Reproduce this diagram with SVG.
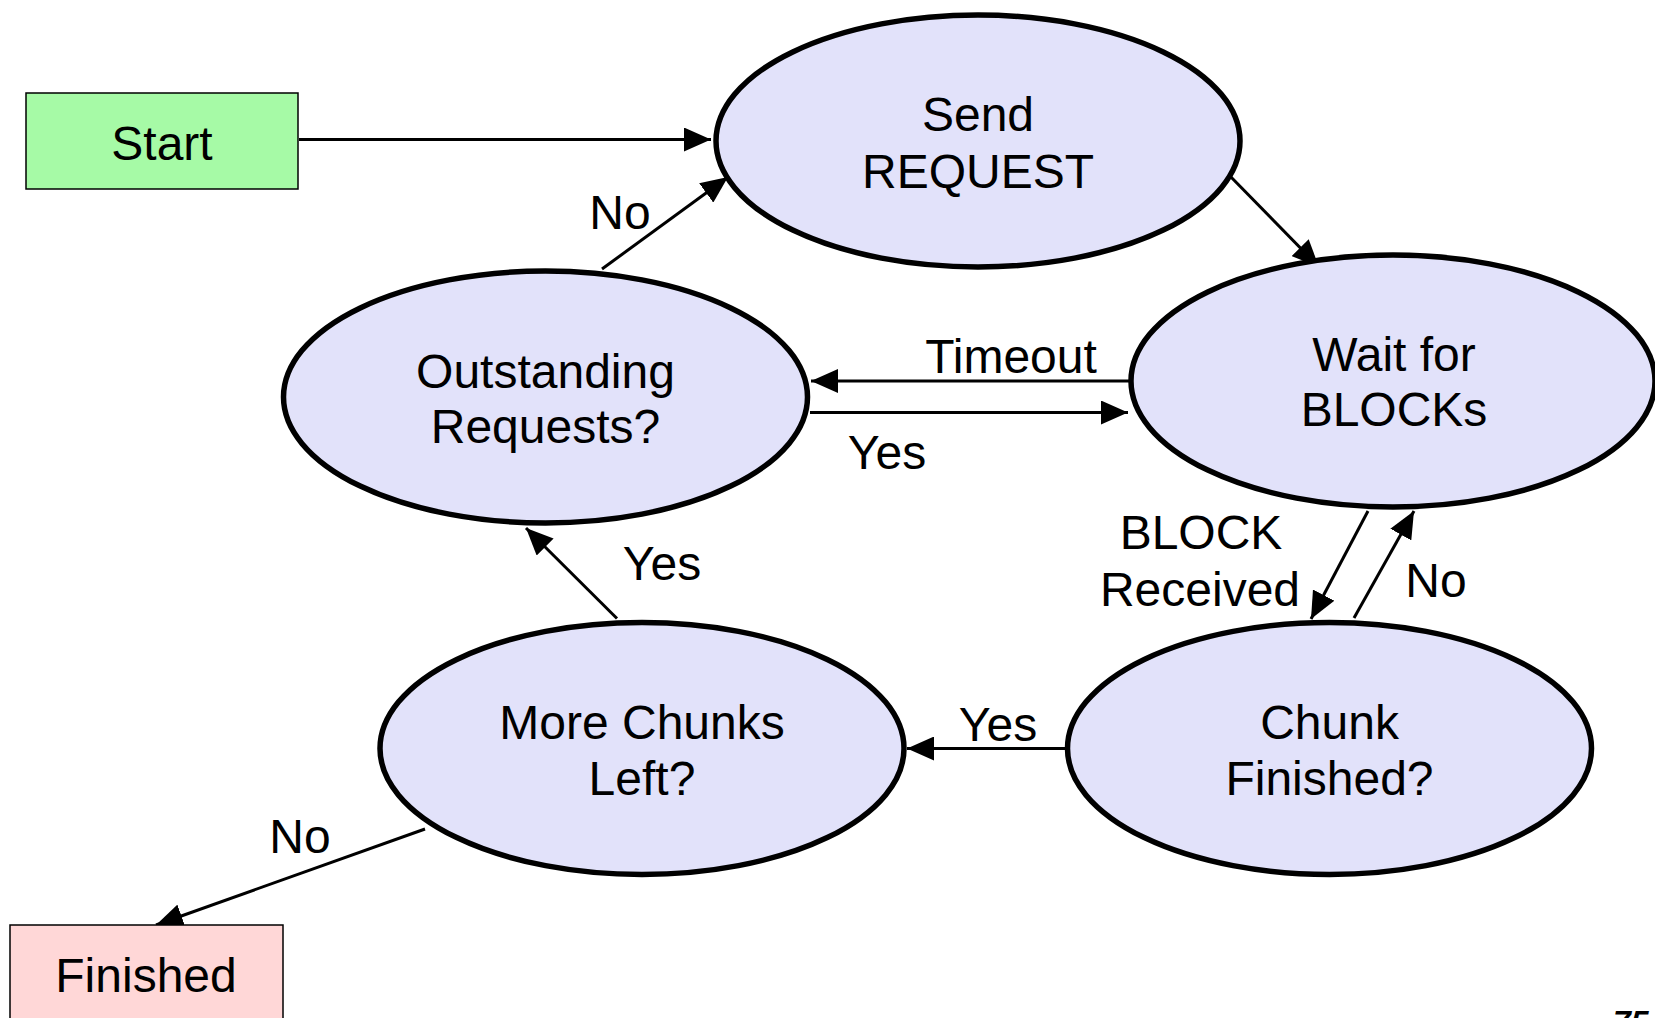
<svg xmlns="http://www.w3.org/2000/svg" width="1655" height="1018" viewBox="0 0 1655 1018">
<style>
.st{fill:#E2E2FA;stroke:#000;stroke-width:5.5}
.t{font-family:"Liberation Sans",Arial,sans-serif;font-size:48px;fill:#000;text-anchor:middle}
.c{stroke:#000;stroke-width:3;fill:none;marker-end:url(#ah)}
</style>
<defs>
<marker id="ah" markerUnits="userSpaceOnUse" markerWidth="28" markerHeight="24" refX="27" refY="12" orient="auto">
<path d="M0,0 L27,12 L0,24 z" fill="#000"/>
</marker>
</defs>
<rect width="1655" height="1018" fill="#fff"/>
<g id="connectors">
<line class="c" x1="299" y1="139.5" x2="711" y2="139.5"/>
<line class="c" x1="602" y1="269" x2="728" y2="177"/>
<line class="c" x1="1228" y1="174" x2="1319" y2="267"/>
<line class="c" x1="1129" y1="381" x2="811" y2="381"/>
<line class="c" x1="810" y1="412.5" x2="1128" y2="412.5"/>
<line class="c" x1="1368" y1="511" x2="1311" y2="619"/>
<line class="c" x1="1354" y1="618" x2="1414" y2="511"/>
<line class="c" x1="1065" y1="748.5" x2="907" y2="748.5"/>
<line class="c" x1="617" y1="618.5" x2="526" y2="528"/>
<line class="c" x1="425" y1="829" x2="156" y2="925"/>
<text class="t" x="620" y="229">No</text>
<text class="t" x="1011" y="373">Timeout</text>
<text class="t" x="887" y="469">Yes</text>
<text class="t" x="1201" y="549">BLOCK</text>
<text class="t" x="1200" y="606">Received</text>
<text class="t" x="1436" y="597">No</text>
<text class="t" x="662" y="580">Yes</text>
<text class="t" x="998" y="741">Yes</text>
<text class="t" x="300" y="853">No</text>
</g>
<g id="start">
<rect x="26" y="93" width="272" height="96" fill="#A6FAA6" stroke="#000" stroke-width="1.5"/>
<text class="t" x="162" y="160">Start</text>
</g>
<g id="send">
<ellipse class="st" cx="978" cy="141" rx="262" ry="126"/>
<text class="t" x="978" y="131">Send</text>
<text class="t" x="978" y="188">REQUEST</text>
</g>
<g id="outstanding">
<ellipse class="st" cx="545.5" cy="397" rx="262" ry="126"/>
<text class="t" x="545.5" y="388">Outstanding</text>
<text class="t" x="545.5" y="443">Requests?</text>
</g>
<g id="wait">
<ellipse class="st" cx="1393" cy="381" rx="262" ry="126"/>
<text class="t" x="1394" y="371">Wait for</text>
<text class="t" x="1394" y="426">BLOCKs</text>
</g>
<g id="more">
<ellipse class="st" cx="642" cy="748.5" rx="262" ry="126"/>
<text class="t" x="642" y="739">More Chunks</text>
<text class="t" x="642" y="795">Left?</text>
</g>
<g id="chunk">
<ellipse class="st" cx="1329.5" cy="748.5" rx="262" ry="126"/>
<text class="t" x="1329.5" y="739">Chunk</text>
<text class="t" x="1329.5" y="795">Finished?</text>
</g>
<g id="finished">
<rect x="10" y="925" width="273" height="120" fill="#FFD7D7" stroke="#000" stroke-width="1.5"/>
<text class="t" x="146" y="992">Finished</text>
</g>
<text x="1613" y="1033" font-family="Liberation Sans,Arial,sans-serif" font-size="32" font-weight="bold" font-style="italic">75</text>
</svg>
